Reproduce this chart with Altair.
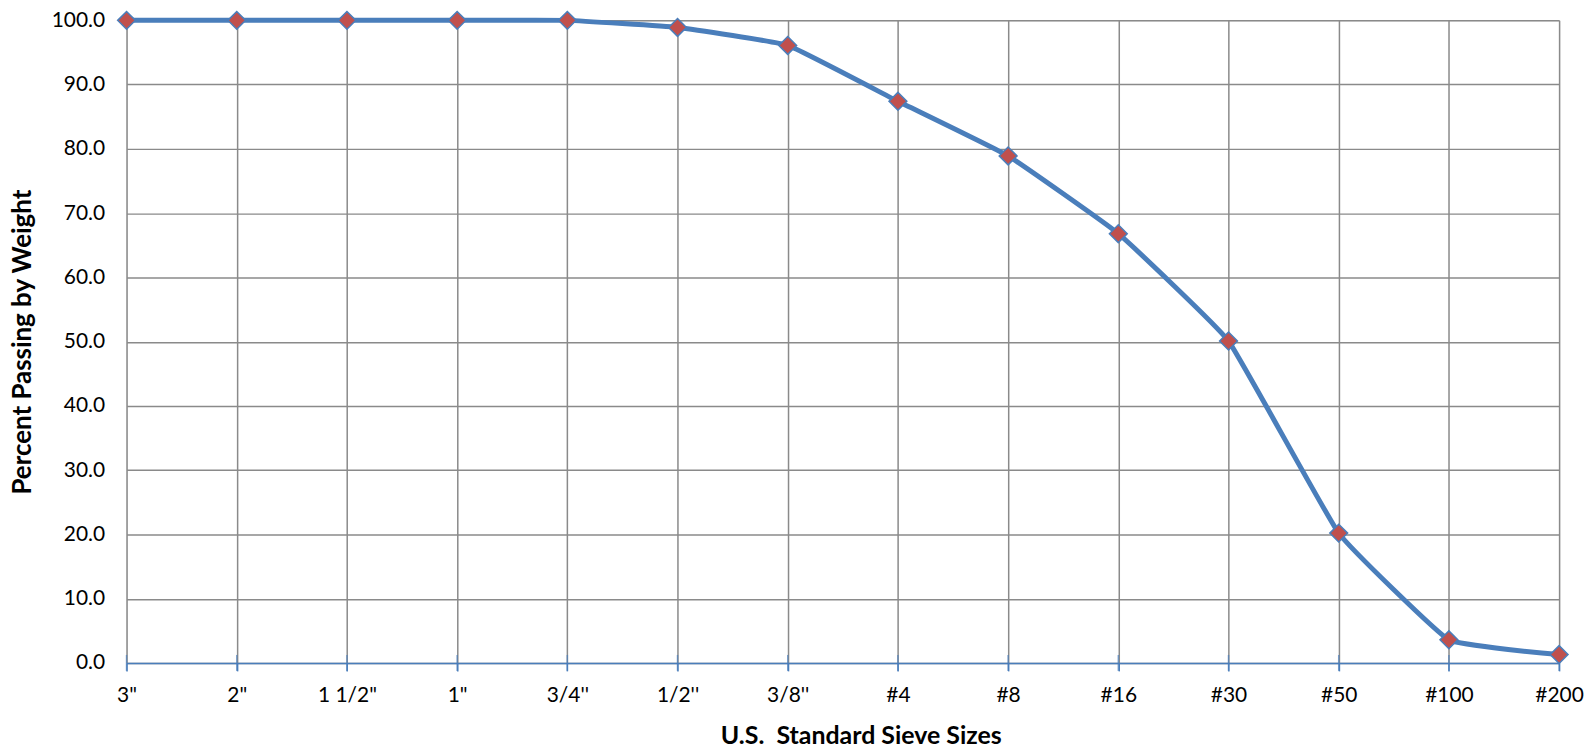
import altair as alt
import pandas as pd

sieves = ['3"', '2"', '1 1/2"', '1"', "3/4''", "1/2''", "3/8''",
          "#4", "#8", "#16", "#30", "#50", "#100", "#200"]
passing = [100.0, 100.0, 100.0, 100.0, 100.0, 98.9, 96.1,
           87.4, 78.9, 66.8, 50.1, 20.2, 3.6, 1.3]
y_ticks = [0, 10, 20, 30, 40, 50, 60, 70, 80, 90, 100]

df = pd.DataFrame({"sieve": sieves, "pct": passing, "base": [0.0] * len(sieves)})

FONT = "Lato"
BLUE = "#4a7ebb"
RED = "#c0504d"
GRID = "#8a8a8a"
W = 1438
H = 645

x_enc = alt.X(
    "sieve:N",
    sort=sieves,
    scale=alt.Scale(type="point", padding=0),
    axis=alt.Axis(
        title="U.S.\u00a0\u00a0Standard Sieve Sizes",
        titleFont=FONT, titleFontSize=25, titleFontWeight="bold", titleColor="#000000",
        titleX=W / 2 + 18, titleY=73, titleAlign="center", titleBaseline="middle",
        labelFont=FONT, labelFontSize=21, labelColor="#000000", labelPadding=14,
        labelAngle=0, labelAlign="center", labelBaseline="top",
        domainColor=BLUE, domainWidth=1.5,
        ticks=True, tickColor=BLUE, tickWidth=1.5, tickSize=8,
        grid=True, gridColor=GRID, gridWidth=1.5,
    ),
)

y_enc = alt.Y(
    "pct:Q",
    scale=alt.Scale(domain=[0, 100], nice=False, zero=True),
    axis=alt.Axis(
        title="Percent Passing by Weight",
        titleFont=FONT, titleFontSize=26, titleFontWeight="bold", titleColor="#000000",
        titleX=-104, titleY=H / 2, titleAngle=-90, titleAlign="center", titleBaseline="middle",
        labelFont=FONT, labelFontSize=21, labelColor="#000000", labelPadding=22,
        values=y_ticks, format=".1f",
        domain=False, ticks=False,
        grid=True, gridColor=GRID, gridWidth=1.5,
    ),
)

base = alt.Chart(df)

tick_marks = base.mark_tick(color=BLUE, thickness=1.5, size=16, orient="vertical").encode(
    x=x_enc, y=alt.Y("base:Q", scale=alt.Scale(domain=[0, 100], nice=False, zero=True))
)

line = base.mark_line(color=BLUE, strokeWidth=5, interpolate="cardinal", tension=0.7).encode(
    x=x_enc, y=y_enc
)

points = base.mark_point(
    shape="diamond", filled=True, fill=RED, stroke=BLUE, strokeWidth=1.5,
    size=320, opacity=1,
).encode(x=x_enc, y=y_enc)

chart = alt.layer(line, tick_marks, points).properties(
    width=W,
    height=H,
    autosize=alt.AutoSizeParams(type="none"),
    padding={"left": 119, "top": 11, "right": 26, "bottom": 86},
).configure_view(stroke=None).configure(background="white")

chart.save("out.html", embed_options={"renderer": "svg", "actions": False})
